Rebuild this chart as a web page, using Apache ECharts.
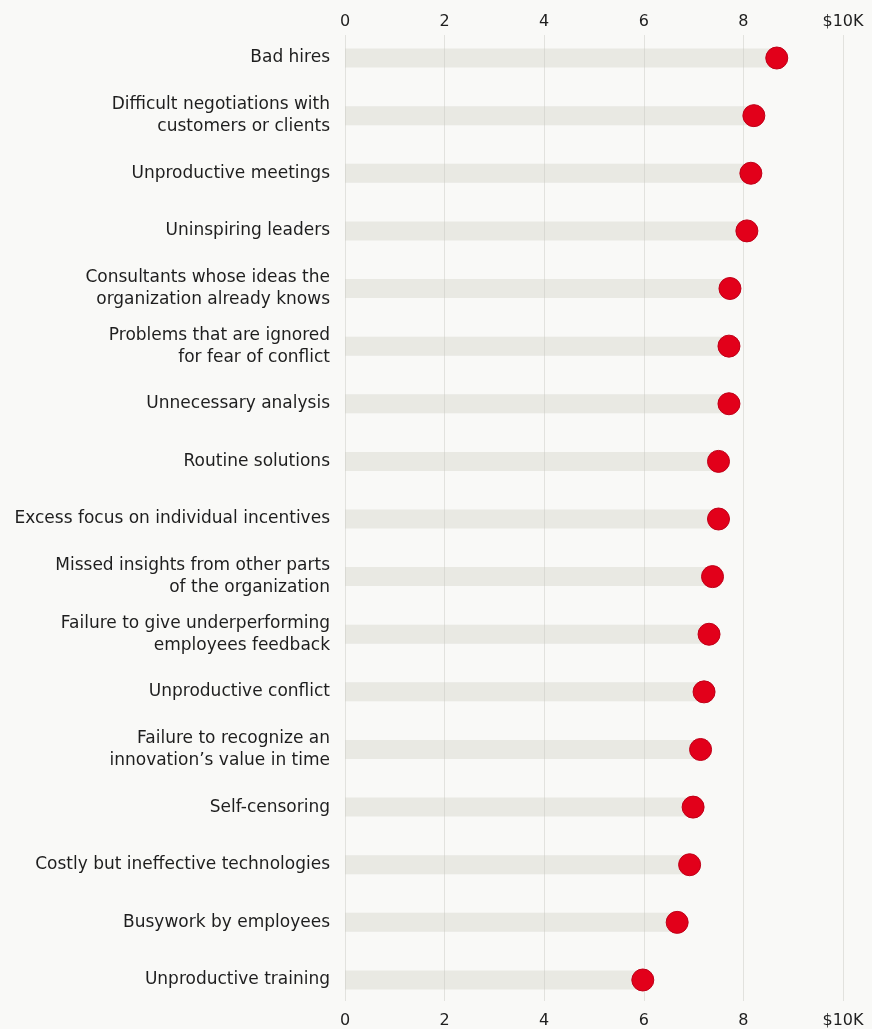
<!DOCTYPE html>
<html>
<head>
<meta charset="utf-8">
<script src="https://cdn.jsdelivr.net/npm/echarts@6/dist/echarts.min.js"></script>
<style>
html,body{margin:0;padding:0;background:#f9f9f7;}
#chart{width:872px;height:1029px;}
</style>
</head>
<body>
<div id="chart"></div>
<script>
const categories = [
  "Bad hires",
  "Difficult negotiations with\ncustomers or clients",
  "Unproductive meetings",
  "Uninspiring leaders",
  "Consultants whose ideas the\norganization already knows",
  "Problems that are ignored\nfor fear of conflict",
  "Unnecessary analysis",
  "Routine solutions",
  "Excess focus on individual incentives",
  "Missed insights from other parts\nof the organization",
  "Failure to give underperforming\nemployees feedback",
  "Unproductive conflict",
  "Failure to recognize an\ninnovation\u2019s value in time",
  "Self-censoring",
  "Costly but ineffective technologies",
  "Busywork by employees",
  "Unproductive training"
];
const costValues = [8.67, 8.21, 8.15, 8.07, 7.73, 7.71, 7.71, 7.50, 7.50, 7.38, 7.31, 7.21, 7.14, 6.99, 6.92, 6.67, 5.98];
const tickValues = [0, 2, 4, 6, 8, 10];
const tickLabels = ["0", "2", "4", "6", "8", "$10K"];

const FONT = "'DejaVu Sans', sans-serif";
const tickFmt = v => { const i = tickValues.indexOf(v); return i >= 0 ? tickLabels[i] : ""; };

const chart = echarts.init(document.getElementById('chart'));
chart.setOption({
  backgroundColor: '#f9f9f7',
  animation: false,
  grid: [
    { left: 345, right: 29, top: 35, bottom: 26 },
    { left: 345, right: 29, top: 29.2, bottom: 20.2 }
  ],
  xAxis: [
    { gridIndex: 0, type: 'value', position: 'top', min: 0, max: 10, interval: 2,
      axisLine: { show: false }, axisTick: { show: false },
      axisLabel: { formatter: tickFmt, color: '#1e1e1e', fontSize: 16, fontFamily: FONT, margin: 5 },
      splitLine: { show: true, lineStyle: { color: '#e2e2de', width: 1 } } },
    { gridIndex: 0, type: 'value', position: 'bottom', min: 0, max: 10, interval: 2,
      axisLine: { show: false }, axisTick: { show: false },
      axisLabel: { formatter: tickFmt, color: '#1e1e1e', fontSize: 16, fontFamily: FONT, margin: 12 },
      splitLine: { show: false } },
    { gridIndex: 1, type: 'value', min: 0, max: 10, show: false }
  ],
  yAxis: [
    { gridIndex: 0, type: 'value', show: false },
    { gridIndex: 1, type: 'category', data: categories, inverse: true,
      axisLine: { show: false }, axisTick: { show: false },
      axisLabel: { color: '#1e1e1e', fontSize: 17, fontFamily: FONT, margin: 15, lineHeight: 22,
        align: 'right', padding: [4, 0, 0, 0] } }
  ],
  series: [
    { type: 'bar', xAxisIndex: 2, yAxisIndex: 1, data: costValues, barWidth: 19,
      itemStyle: { color: 'rgba(200,200,188,0.33)' }, silent: true },
    { type: 'scatter', xAxisIndex: 2, yAxisIndex: 1, data: costValues, symbolSize: 22, z: 5,
      itemStyle: { color: '#e2001a', borderColor: '#c00018', borderWidth: 1, opacity: 1 } }
  ]
});
</script>
</body>
</html>
